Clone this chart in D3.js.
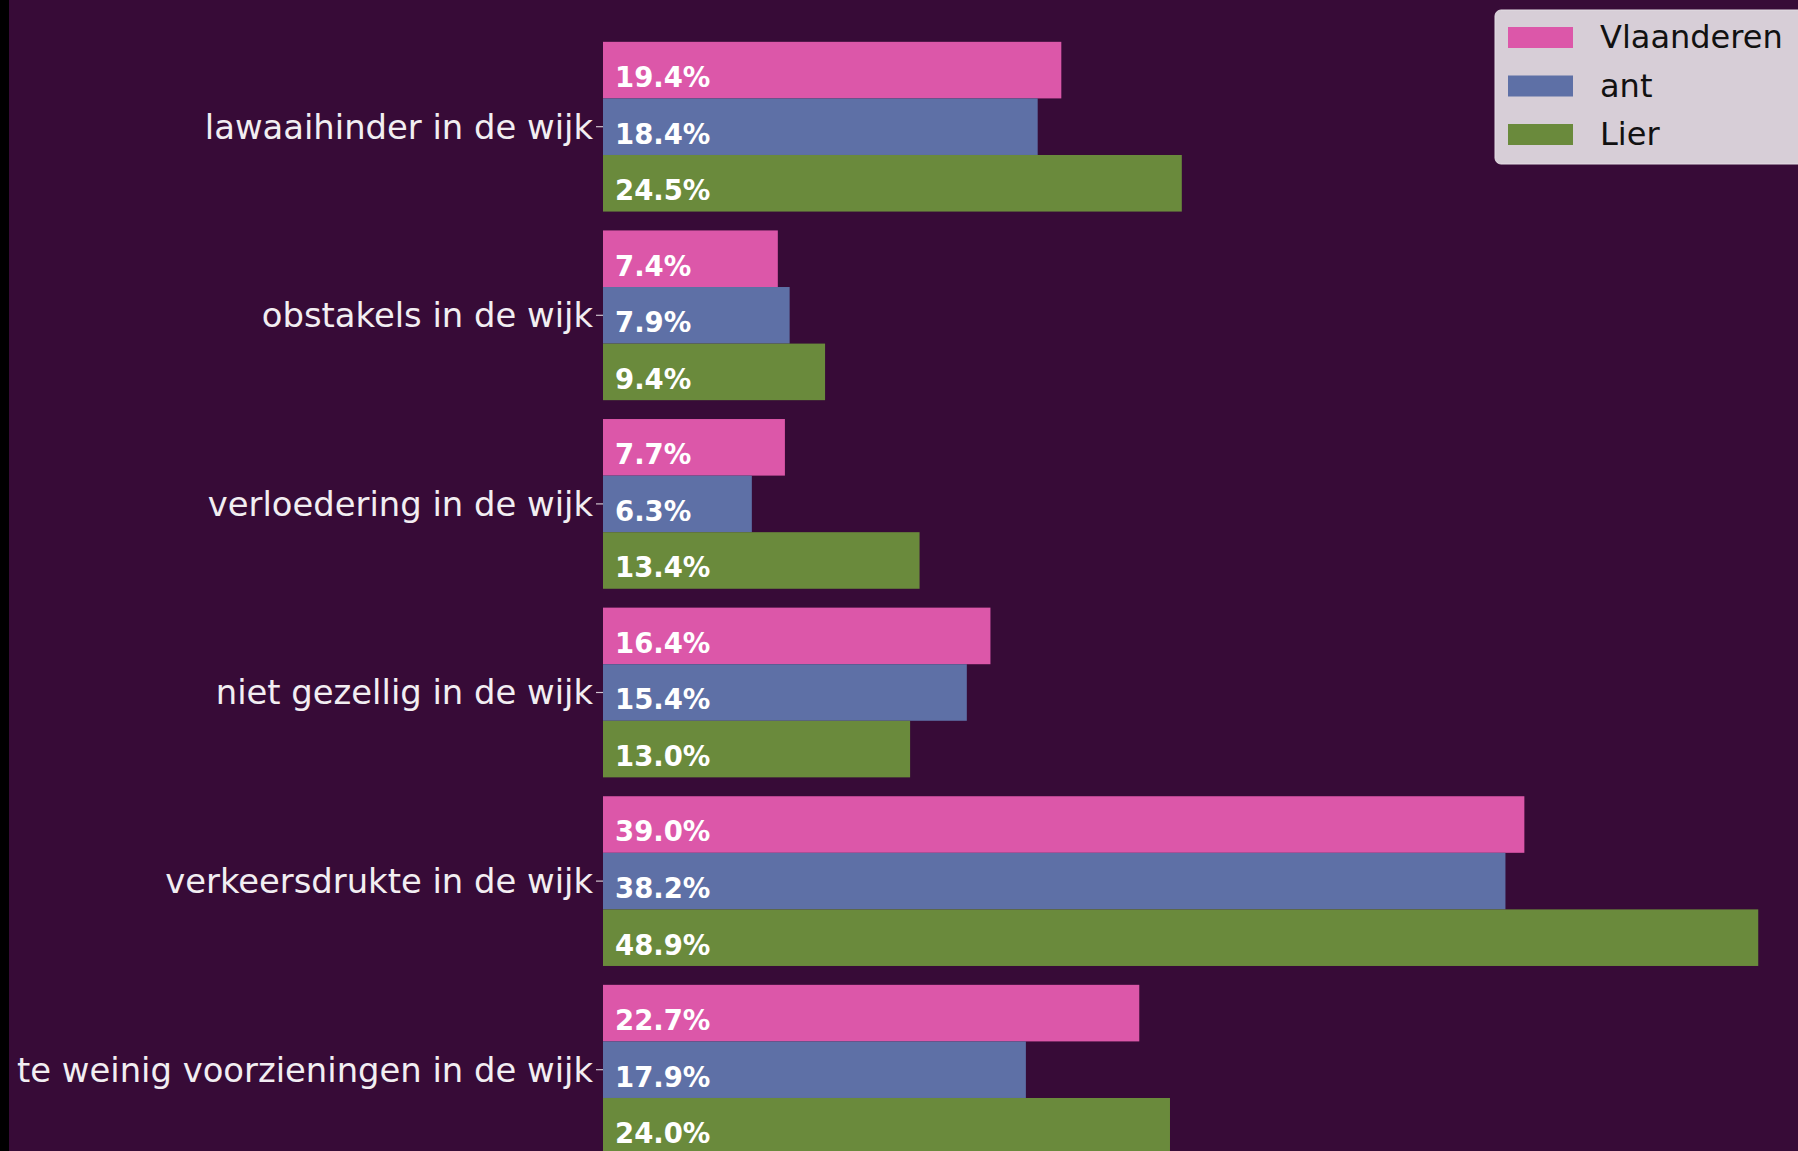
<!DOCTYPE html>
<html>
<head>
<meta charset="utf-8">
<script src="https://cdn.jsdelivr.net/npm/d3@7"></script>
<style>
  html, body { margin: 0; padding: 0; background: #370b37; overflow: hidden; }
  svg { display: block; }
</style>
</head>
<body>
<svg id="chart" width="1798" height="1151"></svg>
<script>
// data
let categories = ['lawaaihinder in de wijk', 'obstakels in de wijk', 'verloedering in de wijk',
    'niet gezellig in de wijk', 'verkeersdrukte in de wijk', 'te weinig voorzieningen in de wijk'];
let seriesNames = ['Vlaanderen', 'ant', 'Lier'];
let vlaanderen = [19.4, 7.4, 7.7, 16.4, 39.0, 22.7];
let ant = [18.4, 7.9, 6.3, 15.4, 38.2, 17.9];
let lier = [24.5, 9.4, 13.4, 13.0, 48.9, 24.0];
let colors = ['#dc57a9', '#5e70a6', '#6a8a3c'];

let series = [vlaanderen, ant, lier];

let svg = d3.select('#chart');

svg.append('rect')
    .attr('width', 1798).attr('height', 1151)
    .attr('fill', '#370b37');
// dark strip on the left edge of the screenshot
svg.append('rect')
    .attr('width', 9).attr('height', 1151)
    .attr('fill', '#000');

let xMax = d3.max(lier.concat(vlaanderen, ant)) * 1.05;
let x = d3.scaleLinear()
    .domain([0, xMax])
    .range([603, 1816]);

// one unit per category, bars are 0.3 units high
let y = d3.scaleLinear()
    .domain([0, categories.length - 1])
    .range([126.7, 126.7 + (categories.length - 1) * 188.6]);
let unit = y(1) - y(0);
let barH = unit * 0.3;

let groups = svg.selectAll('.group')
    .data(categories)
    .enter()
    .append('g')
    .classed('group', true);

series.forEach((vals, s) => {
    groups.append('rect')
        .attr('x', x(0))
        .attr('y', (d, i) => y(i) + (s - 1.5) * barH)
        .attr('width', (d, i) => x(vals[i]) - x(0))
        .attr('height', barH)
        .attr('fill', colors[s]);

    groups.append('text')
        .attr('x', x(0) + 12)
        .attr('y', (d, i) => y(i) + (s - 1.5) * barH + barH * 0.8)
        .attr('fill', '#ffffff')
        .attr('font-family', 'DejaVu Sans')
        .attr('font-weight', 'bold')
        .attr('font-size', 27.5)
        .text((d, i) => d3.format('.1f')(vals[i]) + '%');
});

// y axis: ticks + labels, no spine
let yAxis = svg.append('g');
yAxis.selectAll('line')
    .data(categories)
    .enter()
    .append('line')
    .attr('x1', x(0) - 7)
    .attr('x2', x(0))
    .attr('y1', (d, i) => y(i))
    .attr('y2', (d, i) => y(i))
    .attr('stroke', '#cfc4cf')
    .attr('stroke-width', 1.2);

yAxis.selectAll('text')
    .data(categories)
    .enter()
    .append('text')
    .attr('x', x(0) - 10)
    .attr('y', (d, i) => y(i))
    .attr('dy', '0.35em')
    .attr('text-anchor', 'end')
    .attr('fill', '#f2eef2')
    .attr('font-family', 'DejaVu Sans')
    .attr('font-size', 33.8)
    .text(d => d);

// legend
let legend = svg.append('g').attr('transform', 'translate(1495 10)');
legend.append('rect')
    .attr('width', 310)
    .attr('height', 154)
    .attr('rx', 6)
    .attr('fill', '#d7ced7')
    .attr('stroke', '#e4dde4')
    .attr('stroke-width', 1);

let items = legend.selectAll('.item')
    .data(seriesNames)
    .enter()
    .append('g')
    .attr('transform', (d, i) => `translate(0 ${i * 48.5})`);

items.append('rect')
    .attr('x', 13)
    .attr('y', 17)
    .attr('width', 65)
    .attr('height', 21)
    .attr('fill', (d, i) => colors[i]);

items.append('text')
    .attr('x', 105)
    .attr('y', 38)
    .attr('fill', '#111')
    .attr('font-family', 'DejaVu Sans')
    .attr('font-size', 32)
    .text(d => d);
</script>
</body>
</html>
